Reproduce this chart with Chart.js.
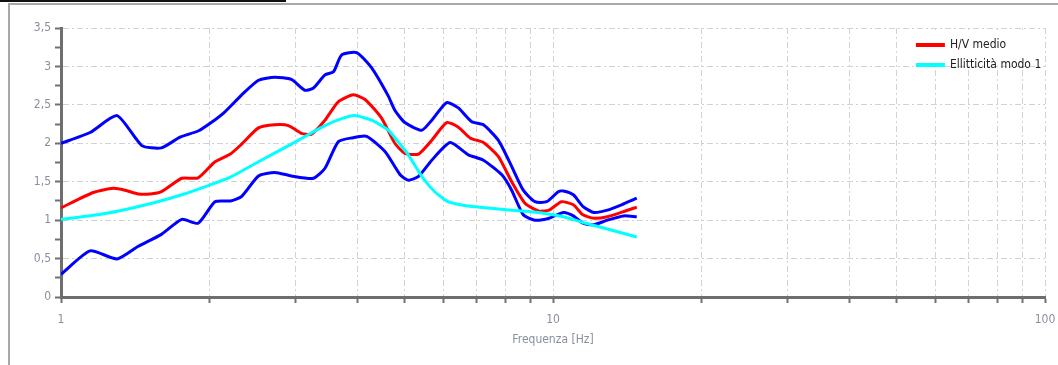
<!DOCTYPE html>
<html lang="it">
<head>
    <meta charset="UTF-8">
    <title>H/V medio - Ellitticità modo 1</title>
    <script src="https://cdn.jsdelivr.net/npm/chart.js"></script>
    <style>
        body {
            margin: 0;
            background-color: white;
        }
        #wrap {
            position: relative;
            width: 1058px;
            height: 365px;
            overflow: hidden;
        }
        #frame {
            position: absolute;
            left: 8px;
            top: 3px;
            width: 1100px;
            height: 400px;
            border-top: 2px solid #a8a8a8;
            border-left: 2px solid #a8a8a8;
        }
        #titleCut {
            position: absolute;
            left: 0;
            top: 0;
            width: 286px;
            height: 2px;
            background-color: #111;
        }
        canvas {
            position: absolute;
            left: 0;
            top: 0;
        }
    </style>
</head>
<body>
    <div id="wrap">
        <div id="frame"></div>
        <div id="titleCut"></div>
        <canvas id="hvChart" width="1058" height="365"></canvas>
    </div>

    <script>
        // curve H/V (frequenze in Hz)
        const freqMedio = [1.0, 1.163, 1.277, 1.349, 1.436, 1.517, 1.60, 1.76, 1.90, 2.056, 2.21, 2.33, 2.52, 2.72, 2.90, 3.08, 3.23, 3.44, 3.66, 3.93, 4.15, 4.48, 4.77, 5.0, 5.33, 5.67, 6.08, 6.42, 6.78, 7.22, 7.74, 8.24, 8.77, 9.34, 9.82, 10.4, 11.0, 11.5, 12.1, 12.9, 13.9, 14.8];
        const hvMedio = [1.16, 1.36, 1.415, 1.39, 1.34, 1.34, 1.37, 1.545, 1.55, 1.76, 1.86, 1.99, 2.20, 2.24, 2.23, 2.13, 2.12, 2.30, 2.54, 2.63, 2.57, 2.33, 2.0, 1.87, 1.86, 2.04, 2.27, 2.21, 2.07, 2.01, 1.83, 1.50, 1.22, 1.12, 1.13, 1.24, 1.20, 1.07, 1.025, 1.045, 1.11, 1.17];

        const freqMax = [1.0, 1.146, 1.30, 1.46, 1.60, 1.746, 1.90, 2.02, 2.154, 2.33, 2.52, 2.72, 2.94, 3.13, 3.26, 3.44, 3.58, 3.72, 3.99, 4.28, 4.63, 4.77, 5.0, 5.41, 5.67, 6.08, 6.42, 6.84, 7.22, 7.74, 8.24, 8.70, 9.19, 9.71, 10.25, 10.5, 11.0, 11.5, 12.1, 12.9, 13.9, 14.8];
        const hvMax = [2.0, 2.14, 2.36, 1.97, 1.94, 2.08, 2.16, 2.27, 2.41, 2.63, 2.82, 2.86, 2.83, 2.69, 2.72, 2.89, 2.93, 3.15, 3.18, 2.98, 2.61, 2.43, 2.27, 2.17, 2.30, 2.53, 2.46, 2.28, 2.24, 2.04, 1.70, 1.39, 1.24, 1.24, 1.37, 1.38, 1.33, 1.18, 1.10, 1.13, 1.21, 1.285];

        const freqMin = [1.0, 1.146, 1.30, 1.436, 1.60, 1.76, 1.90, 2.056, 2.21, 2.33, 2.52, 2.72, 2.94, 3.26, 3.44, 3.66, 3.90, 4.18, 4.56, 4.89, 5.08, 5.33, 5.67, 6.18, 6.73, 7.22, 7.87, 8.24, 8.70, 9.19, 9.82, 10.5, 11.0, 11.5, 12.1, 12.9, 13.9, 14.8];
        const hvMin = [0.295, 0.60, 0.495, 0.66, 0.815, 1.01, 0.96, 1.24, 1.25, 1.31, 1.575, 1.62, 1.575, 1.545, 1.675, 2.02, 2.07, 2.09, 1.89, 1.59, 1.52, 1.57, 1.78, 2.01, 1.85, 1.78, 1.59, 1.39, 1.07, 1.00, 1.025, 1.10, 1.055, 0.96, 0.94, 1.00, 1.055, 1.045];

        // ellitticità teorica
        const freqEll = [1.0, 1.154, 1.31, 1.553, 1.76, 1.992, 2.21, 2.52, 2.94, 3.44, 3.72, 3.96, 4.28, 4.63, 4.8, 5.08, 5.41, 5.75, 6.12, 6.62, 7.28, 8.24, 9.34, 10.5, 11.5, 12.9, 14.8];
        const ellModo1 = [1.01, 1.06, 1.12, 1.23, 1.33, 1.45, 1.56, 1.76, 1.99, 2.23, 2.32, 2.36, 2.30, 2.17, 2.05, 1.85, 1.57, 1.37, 1.24, 1.19, 1.16, 1.13, 1.10, 1.045, 0.97, 0.885, 0.78];

        const xTickValues = [1, 2, 3, 4, 5, 6, 7, 8, 9, 10, 20, 30, 40, 50, 60, 70, 80, 90, 100];
        const xLabelValues = [1, 10, 100];
        const yLabelStep = 0.5;

        const narrowFont = '"Liberation Sans Narrow", "DejaVu Sans Condensed", "Arial Narrow", sans-serif';

        function pairs(xs, ys) {
            return xs.map((x, i) => ({ x: x, y: ys[i] }));
        }

        function isMajor(v) {
            return Math.abs(v / yLabelStep - Math.round(v / yLabelStep)) < 1e-6;
        }

        // legenda con sfondo bianco dentro l'area del grafico
        const boxLegend = {
            id: 'boxLegend',
            afterDraw(chart) {
                const ctx = chart.ctx;
                const xs = chart.scales.x;
                const ys = chart.scales.y;
                const left = xs.getPixelForValue(50) + 1;
                const right = chart.chartArea.right - 1;
                const top = chart.chartArea.top + 2;
                const bottom = ys.getPixelForValue(3) - 1;
                ctx.save();
                ctx.fillStyle = 'white';
                ctx.fillRect(left, top, right - left, bottom - top);
                const items = chart.data.datasets
                    .filter(d => d.legendPos !== undefined)
                    .sort((a, b) => a.legendPos - b.legendPos);
                ctx.font = '12px ' + narrowFont;
                ctx.textBaseline = 'middle';
                items.forEach((d, i) => {
                    const y = top + 15 + i * 20;
                    ctx.strokeStyle = d.borderColor;
                    ctx.lineWidth = 4;
                    ctx.beginPath();
                    ctx.moveTo(left + 18, y);
                    ctx.lineTo(left + 47, y);
                    ctx.stroke();
                    ctx.fillStyle = '#222';
                    ctx.fillText(d.label, left + 52, y);
                });
                ctx.restore();
            }
        };

        const ctx = document.getElementById('hvChart').getContext('2d');
        new Chart(ctx, {
            type: 'line',
            data: {
                datasets: [
                    {
                        label: 'Ellitticità modo 1',
                        data: pairs(freqEll, ellModo1),
                        borderColor: '#00ffff',
                        legendPos: 1,
                        order: 0
                    },
                    {
                        label: 'H/V medio',
                        data: pairs(freqMedio, hvMedio),
                        borderColor: '#ff0000',
                        legendPos: 0,
                        order: 2
                    },
                    {
                        label: 'H/V max',
                        data: pairs(freqMax, hvMax),
                        borderColor: '#0000ff',
                        order: 1
                    },
                    {
                        label: 'H/V min',
                        data: pairs(freqMin, hvMin),
                        borderColor: '#0000ff',
                        order: 1
                    }
                ]
            },
            options: {
                responsive: false,
                animation: false,
                layout: {
                    padding: { left: 10, right: 13, top: 28, bottom: 18 }
                },
                elements: {
                    point: { radius: 0 },
                    line: { borderWidth: 3, tension: 0.2, fill: false }
                },
                plugins: {
                    legend: { display: false },
                    tooltip: { enabled: false }
                },
                scales: {
                    x: {
                        type: 'logarithmic',
                        min: 1,
                        max: 100,
                        afterBuildTicks: scale => {
                            scale.ticks = xTickValues.map(v => ({ value: v }));
                        },
                        afterFit: scale => {
                            scale.height = 50;
                            scale.paddingLeft = 0;
                            scale.paddingRight = 0;
                        },
                        ticks: {
                            autoSkip: false,
                            maxRotation: 0,
                            padding: 10,
                            color: '#8a8fa0',
                            font: { family: narrowFont, size: 12 },
                            callback: v => xLabelValues.includes(v) ? String(v) : ''
                        },
                        grid: {
                            color: '#d2d2d2',
                            lineWidth: 1,
                            tickLength: 6,
                            tickColor: '#707070',
                            tickWidth: 2
                        },
                        border: {
                            color: '#6e6e6e',
                            width: 3,
                            dash: [6, 3, 2, 3]
                        },
                        title: {
                            display: true,
                            text: 'Frequenza [Hz]',
                            color: '#8a8fa0',
                            font: { family: narrowFont, size: 12 },
                            padding: 0
                        }
                    },
                    y: {
                        min: 0,
                        max: 3.5,
                        afterFit: scale => {
                            scale.width = 51;
                        },
                        ticks: {
                            stepSize: 0.25,
                            padding: 4,
                            color: '#8a8fa0',
                            font: { family: narrowFont, size: 12 },
                            callback: v => isMajor(v) ? String(v).replace('.', ',') : ''
                        },
                        grid: {
                            color: c => (c.tick && isMajor(c.tick.value)) ? '#d2d2d2' : 'rgba(0,0,0,0)',
                            lineWidth: 1,
                            tickLength: 6,
                            tickColor: '#707070',
                            tickWidth: 2
                        },
                        border: {
                            color: '#6e6e6e',
                            width: 3,
                            dash: [6, 3, 2, 3]
                        }
                    }
                }
            },
            plugins: [boxLegend]
        });
    </script>
</body>
</html>
